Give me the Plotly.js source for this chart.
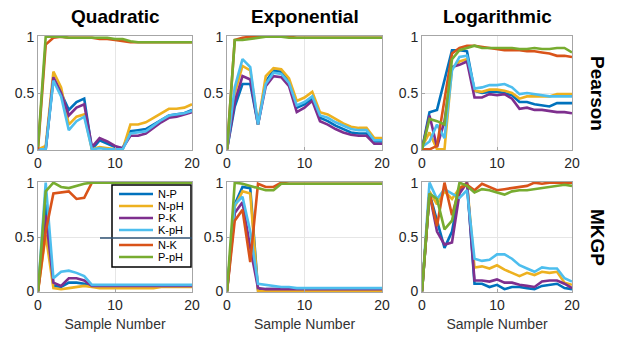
<!DOCTYPE html>
<html><head><meta charset="utf-8">
<script src="https://cdn.plot.ly/plotly-3.0.1.min.js"></script>
<style>html,body{margin:0;padding:0;background:#fff}#chart{width:622px;height:337px}</style>
</head><body><div id="chart"></div>
<script>
const samples = [0,1,2,3,4,5,6,7,8,9,10,11,12,13,14,15,16,17,18,19,20];
const seriesNames = ['N-P','N-pH','P-K','K-pH','N-K','P-pH'];
const seriesColors = ['#0072BD','#EDB120','#7E2F8E','#4DBEEE','#D95319','#77AC30'];
const columnTitles = ['Quadratic','Exponential','Logarithmic'];
const rowTitles = ['Pearson','MKGP'];
const xTickVals = [0,10,20];
const yTickVals = [0,0.5,1];
const yTickText = ['0','0.5','1'];
const xAxisTitle = 'Sample Number';

// Quadratic - Pearson
const quadPearsonNP   = [0,0,0.63,0.50,0.35,0.42,0.45,0.00,0.08,0.05,0.02,0.01,0.16,0.17,0.18,0.22,0.26,0.30,0.31,0.32,0.35];
const quadPearsonNpH  = [0,0.03,0.69,0.55,0.22,0.29,0.31,0.00,0.02,0.01,0.00,0.00,0.22,0.22,0.24,0.28,0.32,0.36,0.36,0.37,0.40];
const quadPearsonPK   = [0,0,0.64,0.50,0.30,0.37,0.40,0.02,0.10,0.07,0.03,0.01,0.12,0.12,0.14,0.19,0.24,0.28,0.29,0.31,0.33];
const quadPearsonKpH  = [0,0,0.61,0.47,0.17,0.25,0.29,0.00,0.01,0.00,0.00,0.00,0.14,0.15,0.16,0.21,0.26,0.30,0.31,0.32,0.34];
const quadPearsonNK   = [0,0.93,0.99,1.00,0.99,0.99,0.99,0.99,0.98,0.98,0.97,0.96,0.95,0.95,0.95,0.95,0.95,0.95,0.95,0.95,0.95];
const quadPearsonPpH  = [0.02,1.00,1.00,1.00,0.99,0.99,0.99,0.99,0.99,0.99,0.98,0.98,0.96,0.95,0.95,0.95,0.95,0.95,0.95,0.95,0.95];

// Exponential - Pearson
const expPearsonNP    = [0,0.38,0.58,0.58,0.22,0.60,0.70,0.69,0.60,0.37,0.40,0.45,0.28,0.25,0.21,0.18,0.15,0.14,0.14,0.07,0.07];
const expPearsonNpH   = [0,0.50,0.74,0.70,0.22,0.65,0.72,0.71,0.63,0.43,0.46,0.51,0.33,0.31,0.27,0.23,0.20,0.19,0.19,0.10,0.10];
const expPearsonPK    = [0,0.42,0.65,0.62,0.22,0.56,0.65,0.64,0.56,0.33,0.37,0.43,0.25,0.22,0.18,0.15,0.13,0.12,0.12,0.05,0.05];
const expPearsonKpH   = [0,0.55,0.80,0.73,0.22,0.58,0.68,0.67,0.59,0.39,0.42,0.47,0.30,0.28,0.24,0.21,0.18,0.17,0.17,0.08,0.08];
const expPearsonNK    = [0,0.97,0.99,1.00,1.00,1.00,1.00,1.00,1.00,0.99,0.99,0.99,0.99,0.99,0.99,0.99,0.99,0.99,0.99,0.99,0.99];
const expPearsonPpH   = [0,0.97,0.97,0.98,0.99,1.00,1.00,1.00,0.99,0.99,0.99,0.99,0.99,0.99,0.99,0.99,0.99,0.99,0.99,0.99,0.99];

// Logarithmic - Pearson
const logPearsonNP    = [0,0.33,0.35,0.62,0.88,0.88,0.87,0.52,0.50,0.51,0.51,0.50,0.48,0.42,0.42,0.40,0.39,0.38,0.41,0.41,0.41];
const logPearsonNpH   = [0.02,0.15,0.00,0.00,0.72,0.78,0.80,0.52,0.51,0.53,0.53,0.52,0.50,0.45,0.47,0.47,0.47,0.47,0.49,0.49,0.49];
const logPearsonPK    = [0,0.30,0.02,0.25,0.73,0.75,0.78,0.46,0.46,0.49,0.48,0.49,0.45,0.36,0.37,0.35,0.35,0.34,0.33,0.33,0.32];
const logPearsonKpH   = [0.02,0.07,0.22,0.10,0.70,0.82,0.83,0.54,0.55,0.57,0.57,0.58,0.55,0.49,0.50,0.49,0.48,0.47,0.47,0.47,0.47];
const logPearsonNK    = [0,0.00,0.03,0.45,0.85,0.90,0.92,0.92,0.91,0.90,0.89,0.88,0.88,0.88,0.87,0.87,0.86,0.85,0.83,0.83,0.82];
const logPearsonPpH   = [0,0.27,0.25,0.22,0.80,0.88,0.90,0.92,0.90,0.90,0.90,0.90,0.90,0.89,0.89,0.90,0.89,0.89,0.90,0.90,0.86];

// Quadratic - MKGP
const quadMkgpNP      = [0,0.80,0.05,0.04,0.08,0.08,0.07,0.05,0.05,0.05,0.05,0.05,0.05,0.05,0.05,0.05,0.05,0.05,0.05,0.05,0.05];
const quadMkgpNpH     = [0,0.52,0.03,0.02,0.03,0.04,0.05,0.04,0.03,0.03,0.03,0.03,0.03,0.03,0.03,0.03,0.04,0.04,0.04,0.04,0.04];
const quadMkgpPK      = [0,0.70,0.08,0.05,0.12,0.12,0.10,0.05,0.05,0.05,0.05,0.05,0.05,0.05,0.05,0.05,0.05,0.05,0.05,0.05,0.05];
const quadMkgpKpH     = [0,1.00,0.12,0.18,0.19,0.17,0.14,0.06,0.06,0.06,0.06,0.06,0.06,0.06,0.06,0.06,0.06,0.06,0.06,0.06,0.06];
const quadMkgpNK      = [0,0.55,0.90,0.91,0.92,0.85,0.86,1.00,1.00,1.00,1.00,1.00,1.00,1.00,1.00,1.00,1.00,1.00,1.00,1.00,1.00];
const quadMkgpPpH     = [0,0.92,1.00,0.96,0.95,0.97,0.99,1.00,1.00,1.00,1.00,1.00,1.00,1.00,1.00,1.00,1.00,1.00,1.00,1.00,1.00];

// Exponential - MKGP
const expMkgpNP       = [0,0.80,0.96,0.95,0.02,0.02,0.02,0.02,0.02,0.02,0.02,0.02,0.02,0.02,0.02,0.02,0.02,0.02,0.02,0.02,0.02];
const expMkgpNpH      = [0,0.78,0.92,0.90,0.00,0.00,0.00,0.00,0.00,0.00,0.00,0.00,0.00,0.00,0.00,0.00,0.00,0.00,0.00,0.00,0.00];
const expMkgpPK       = [0,0.72,0.82,0.40,0.03,0.02,0.02,0.02,0.02,0.02,0.02,0.02,0.02,0.02,0.02,0.02,0.02,0.02,0.02,0.02,0.02];
const expMkgpKpH      = [0,0.80,0.87,0.55,0.07,0.06,0.05,0.04,0.04,0.03,0.03,0.03,0.03,0.03,0.03,0.03,0.03,0.03,0.03,0.03,0.03];
const expMkgpNK       = [0,0.65,0.75,0.27,0.99,0.96,0.96,1.00,0.99,0.99,0.99,0.99,0.99,0.99,0.99,0.99,0.99,0.99,0.99,0.99,0.99];
const expMkgpPpH      = [0,1.00,0.99,0.97,0.95,0.93,0.93,0.99,0.99,0.99,0.99,0.99,0.99,0.99,0.99,0.99,0.99,0.99,0.99,0.99,0.99];

// Logarithmic - MKGP
const logMkgpNP       = [0,0.90,0.65,0.40,0.55,0.92,1.00,0.07,0.07,0.04,0.06,0.02,0.04,0.04,0.03,0.02,0.05,0.06,0.07,0.03,0.02];
const logMkgpNpH      = [0,0.92,0.80,0.92,0.85,0.95,1.00,0.22,0.23,0.21,0.24,0.20,0.17,0.14,0.17,0.15,0.18,0.17,0.18,0.08,0.06];
const logMkgpPK       = [0,0.90,0.55,0.43,0.45,0.90,1.00,0.10,0.10,0.09,0.11,0.08,0.08,0.06,0.05,0.04,0.09,0.10,0.10,0.07,0.03];
const logMkgpKpH      = [0,1.00,0.85,0.94,0.90,0.86,0.93,0.30,0.28,0.29,0.34,0.34,0.30,0.24,0.21,0.18,0.22,0.21,0.21,0.12,0.09];
const logMkgpNK       = [0,0.90,0.60,1.00,0.70,0.95,0.98,0.93,0.99,0.96,0.93,0.94,0.95,0.96,0.97,1.00,0.99,1.00,1.00,1.00,1.00];
const logMkgpPpH      = [0,0.90,0.85,0.57,0.65,1.00,0.97,0.91,0.94,0.93,0.91,0.89,0.92,0.93,0.93,0.94,0.95,0.96,0.97,0.98,0.97];

const panels = [
  [quadPearsonNP, quadPearsonNpH, quadPearsonPK, quadPearsonKpH, quadPearsonNK, quadPearsonPpH],
  [expPearsonNP, expPearsonNpH, expPearsonPK, expPearsonKpH, expPearsonNK, expPearsonPpH],
  [logPearsonNP, logPearsonNpH, logPearsonPK, logPearsonKpH, logPearsonNK, logPearsonPpH],
  [quadMkgpNP, quadMkgpNpH, quadMkgpPK, quadMkgpKpH, quadMkgpNK, quadMkgpPpH],
  [expMkgpNP, expMkgpNpH, expMkgpPK, expMkgpKpH, expMkgpNK, expMkgpPpH],
  [logMkgpNP, logMkgpNpH, logMkgpPK, logMkgpKpH, logMkgpNK, logMkgpPpH]
];

const W = 622, H = 337;
const px = v => v / W;
const py = v => 1 - v / H;
const colDom = [[38,192],[227,382],[422,572]];
const rowDom = [[36,150],[182,292]];

const traces = [];
panels.forEach((series, p) => {
  const ax = p === 0 ? '' : String(p + 1);
  series.forEach((vals, s) => {
    traces.push({
      type: 'scatter', mode: 'lines', x: samples, y: vals,
      xaxis: 'x' + ax, yaxis: 'y' + ax, name: seriesNames[s],
      showlegend: false, hoverinfo: 'skip',
      line: {color: seriesColors[s], width: 2.6}
    });
  });
});

const font = {family: 'Liberation Sans, Arial, sans-serif', size: 14, color: '#262626'};
const layout = {
  width: W, height: H, margin: {l:0, r:0, t:0, b:0},
  paper_bgcolor: '#fff', plot_bgcolor: '#fff', showlegend: false,
  font: font, annotations: [], shapes: []
};

for (let p = 0; p < 6; p++) {
  const c = p % 3, r = Math.floor(p / 3);
  const ax = p === 0 ? '' : String(p + 1);
  const xa = {
    domain: [px(colDom[c][0]), px(colDom[c][1])], range: [0, 20],
    anchor: 'y' + ax, tickmode: 'array', tickvals: xTickVals,
    showline: true, mirror: true, linecolor: '#a6a6a6', linewidth: 1,
    showgrid: true, gridcolor: '#e6e6e6', gridwidth: 1, zeroline: false,
    ticks: 'inside', ticklen: 3, tickcolor: '#a6a6a6',
    tickfont: {family: font.family, size: 14, color: '#262626'}, fixedrange: true
  };
  if (r === 1) {
    xa.title = {text: xAxisTitle, font: {family: font.family, size: 14, color: '#333333'}, standoff: 7};
  }
  const ya = {
    domain: [py(rowDom[r][1]), py(rowDom[r][0])], range: [-0.006, 1.006],
    anchor: 'x' + ax, tickmode: 'array', tickvals: yTickVals, ticktext: yTickText,
    showline: true, mirror: true, linecolor: '#a6a6a6', linewidth: 1,
    showgrid: true, gridcolor: '#e6e6e6', gridwidth: 1, zeroline: false,
    ticks: 'inside', ticklen: 3, tickcolor: '#a6a6a6',
    tickfont: {family: font.family, size: 14, color: '#262626'}, fixedrange: true
  };
  layout['xaxis' + ax] = xa;
  layout['yaxis' + ax] = ya;
}

columnTitles.forEach((t, c) => {
  layout.annotations.push({
    text: '<b>' + t + '</b>', xref: 'paper', yref: 'paper',
    x: px((colDom[c][0] + colDom[c][1]) / 2), y: py(17),
    xanchor: 'center', yanchor: 'middle', showarrow: false,
    font: {family: font.family, size: 19, color: '#000'}
  });
});
rowTitles.forEach((t, r) => {
  layout.annotations.push({
    text: '<b>' + t + '</b>', xref: 'paper', yref: 'paper',
    x: px(598), y: py((rowDom[r][0] + rowDom[r][1]) / 2),
    xanchor: 'center', yanchor: 'middle', showarrow: false, textangle: 90,
    font: {family: font.family, size: 19, color: '#000'}
  });
});

// manual legend in Quadratic MKGP panel
const legendRows = [194, 206, 218, 230, 245, 257];
layout.shapes.push({type: 'rect', xref: 'paper', yref: 'paper',
  x0: px(112), x1: px(191), y0: py(185), y1: py(267),
  line: {color: '#000', width: 1.5}, fillcolor: '#fff', layer: 'above'});
layout.shapes.push({type: 'line', xref: 'paper', yref: 'paper',
  x0: px(100), x1: px(192), y0: py(238), y1: py(238),
  line: {color: '#2f5273', width: 1.5}, layer: 'above'});
seriesNames.forEach((n, s) => {
  layout.shapes.push({type: 'line', xref: 'paper', yref: 'paper',
    x0: px(119), x1: px(153), y0: py(legendRows[s]), y1: py(legendRows[s]),
    line: {color: seriesColors[s], width: 2.6}, layer: 'above'});
  layout.annotations.push({
    text: n, xref: 'paper', yref: 'paper', x: px(156), y: py(legendRows[s]),
    xanchor: 'left', yanchor: 'middle', showarrow: false,
    font: {family: font.family, size: 11, color: '#000'}
  });
});

Plotly.newPlot('chart', traces, layout, {displayModeBar: false, staticPlot: true});
</script></body></html>
